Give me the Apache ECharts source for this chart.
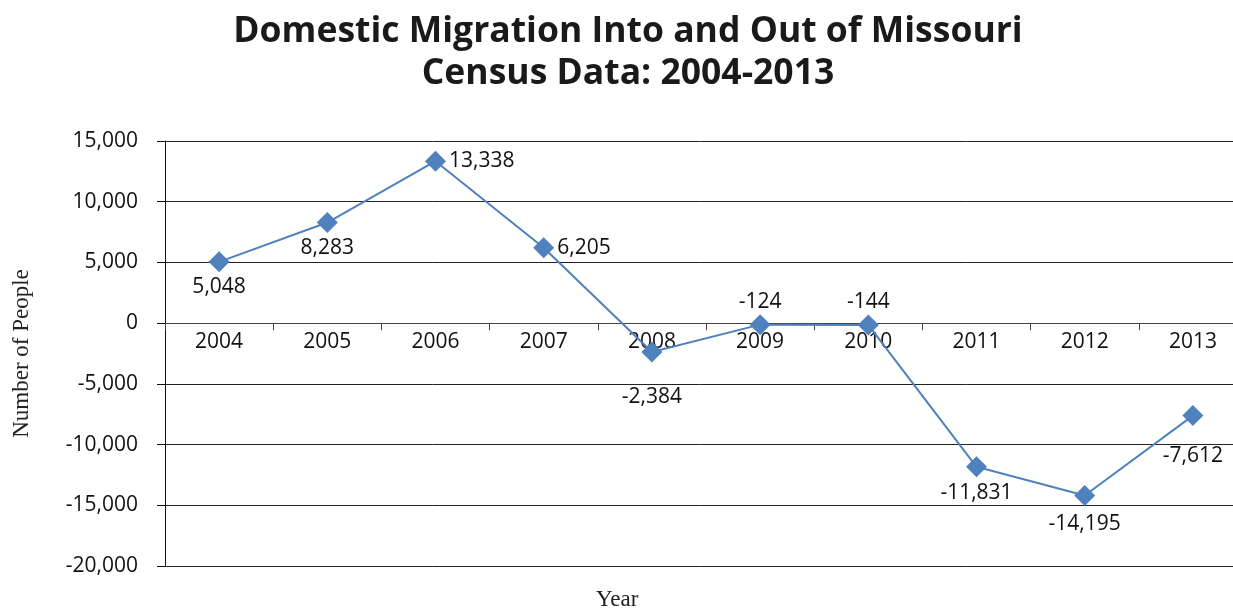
<!DOCTYPE html>
<html>
<head>
<meta charset="utf-8">
<style>
  html, body { margin: 0; padding: 0; background: #ffffff; }
  #chart { width: 1233px; height: 610px; }
</style>
<script src="https://cdn.jsdelivr.net/npm/echarts@6/dist/echarts.min.js"></script>
</head>
<body>
<div id="chart"></div>
<script>
// Net domestic migration for Missouri, by year
const years = ['2004', '2005', '2006', '2007', '2008', '2009', '2010', '2011', '2012', '2013'];
const netMigration = [5048, 8283, 13338, 6205, -2384, -124, -144, -11831, -14195, -7612];
const yTicks = { min: -20000, max: 15000, step: 5000 };

// Where each value label sits relative to its marker
const labelSide = ['bottom', 'bottom', 'right', 'right', 'bottom', 'top', 'top', 'bottom', 'bottom', 'bottom'];
const labelGap = [4, 4, 3, 3, 24, 2, 2, 5, 8, 19];

const fmt = v => v.toLocaleString('en-US');
const sansFont = '"Open Sans", "Liberation Sans", sans-serif';
const serifFont = '"Liberation Serif", "DejaVu Serif", serif';

// Plot box (runs slightly past the right edge of the canvas)
const plot = { left: 165, top: 141, width: 1082, height: 425 };
// Category axis drawn along the zero line
const zeroOffset = plot.height * (0 - yTicks.min) / (yTicks.max - yTicks.min);

const chart = echarts.init(document.getElementById('chart'), null, { renderer: 'canvas' });

chart.setOption({
  animation: false,
  backgroundColor: '#ffffff',
  title: {
    text: 'Domestic Migration Into and Out of Missouri\nCensus Data: 2004-2013',
    left: 623,
    top: 6,
    textAlign: 'center',
    textStyle: {
      fontFamily: sansFont,
      fontWeight: 'bold',
      fontSize: 35.5,
      lineHeight: 42,
      color: '#1a1a1a'
    }
  },
  graphic: [{
    type: 'text',
    left: 596,
    top: 588,
    style: {
      text: 'Year',
      font: '23px ' + serifFont,
      fill: '#222'
    }
  }],
  grid: {
    left: plot.left, top: plot.top, width: plot.width, height: plot.height,
    outerBoundsMode: 'none'
  },
  xAxis: {
    type: 'category',
    data: years,
    boundaryGap: true,
    offset: -zeroOffset,
    axisLine: { onZero: false, lineStyle: { color: '#444', width: 1.2 } },
    axisTick: { show: true, inside: false, length: 7, alignWithLabel: false, lineStyle: { color: '#444' } },
    axisLabel: { margin: 8, fontFamily: sansFont, fontSize: 21, color: '#111' },
    splitLine: { show: false }
  },
  yAxis: {
    type: 'value',
    min: yTicks.min,
    max: yTicks.max,
    interval: yTicks.step,
    name: 'Number of People',
    nameLocation: 'middle',
    nameGap: 132,
    nameTextStyle: { fontFamily: serifFont, fontSize: 23, color: '#222' },
    axisLine: { show: true, lineStyle: { color: '#111', width: 1 } },
    axisTick: { show: true, inside: false, length: 8, lineStyle: { color: '#111' } },
    axisLabel: {
      margin: 27,
      fontFamily: sansFont,
      fontSize: 21,
      color: '#111',
      formatter: v => fmt(v)
    },
    splitLine: { show: true, lineStyle: { color: '#222', width: 1 } }
  },
  series: [{
    type: 'line',
    data: netMigration.map((v, i) => ({
      value: v,
      label: { position: labelSide[i], distance: labelGap[i] }
    })),
    symbol: 'diamond',
    symbolSize: 21,
    itemStyle: { color: '#4F81BD' },
    lineStyle: { color: '#4F81BD', width: 2 },
    label: {
      show: true,
      fontFamily: sansFont,
      fontSize: 21,
      color: '#111',
      formatter: p => fmt(p.value)
    }
  }]
});
</script>
</body>
</html>
